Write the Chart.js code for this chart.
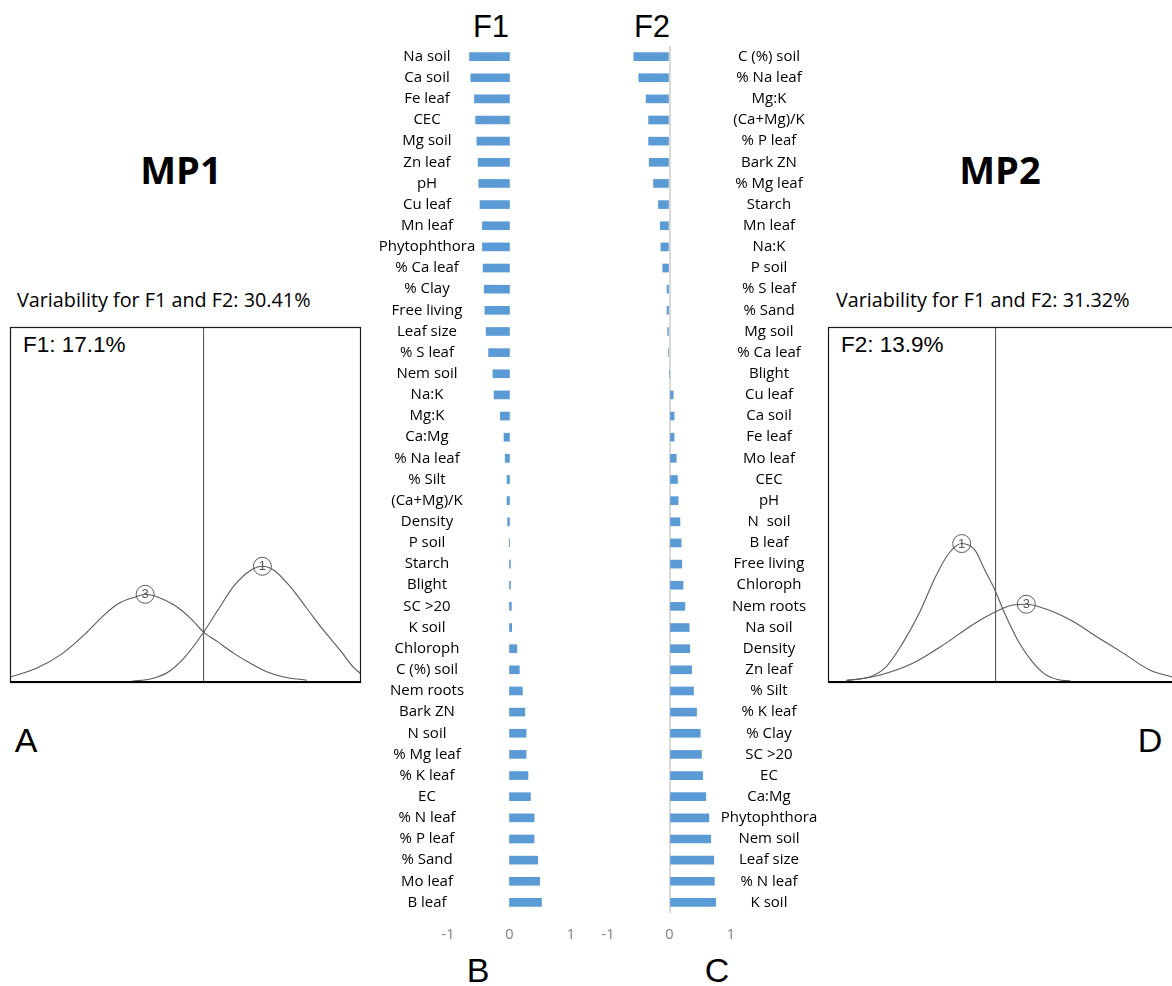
<!DOCTYPE html>
<html>
<head>
<meta charset="utf-8">
<script src="https://cdn.jsdelivr.net/npm/chart.js@4.4.0/dist/chart.umd.min.js"></script>
<style>
  html, body { margin: 0; padding: 0; background: #fff; }
  #page { position: relative; width: 1172px; height: 986px; overflow: hidden; background: #fff; }
  canvas { position: absolute; }
  .t { position: absolute; white-space: nowrap; line-height: 1; transform: translate(-50%, -50%); color: #000; }
  .l { transform: translate(0, -50%); }
  .arial { font-family: "Liberation Sans", Arial, sans-serif; }
  .cal { font-family: "Open Sans", sans-serif; }
</style>
</head>
<body>
<div id="page">
  <div class="t arial" style="left:491px;top:26px;font-size:31px">F1</div>
  <div class="t arial" style="left:652px;top:26px;font-size:31px">F2</div>
  <div class="t cal" style="left:181px;top:169px;font-size:38px;font-weight:700">MP1</div>
  <div class="t cal" style="left:1000px;top:169px;font-size:38px;font-weight:700">MP2</div>
  <div class="t l cal" style="left:17px;top:300px;font-size:19.8px">Variability for F1 and F2: 30.41%</div>
  <div class="t l cal" style="left:836px;top:300px;font-size:19.8px">Variability for F1 and F2: 31.32%</div>
  <div class="t l arial" style="left:23px;top:345px;font-size:22.5px">F1: 17.1%</div>
  <div class="t l arial" style="left:841px;top:345px;font-size:22.5px">F2: 13.9%</div>
  <div class="t arial" style="left:26px;top:740px;font-size:34px">A</div>
  <div class="t arial" style="left:478px;top:970px;font-size:34px">B</div>
  <div class="t arial" style="left:717px;top:970px;font-size:34px">C</div>
  <div class="t arial" style="left:1150px;top:740px;font-size:34px">D</div>

  <canvas id="mp1Chart" width="380" height="400" style="left:0px;top:300px"></canvas>
  <canvas id="mp2Chart" width="380" height="400" style="left:818px;top:300px"></canvas>
  <canvas id="f1Chart" width="262" height="960" style="left:328px;top:0px"></canvas>
  <canvas id="f2Chart" width="263" height="960" style="left:588px;top:0px"></canvas>
</div>

<script>
// F1 loadings (panel B)
const f1Labels = ['Na soil', 'Ca soil', 'Fe leaf', 'CEC', 'Mg soil', 'Zn leaf', 'pH', 'Cu leaf', 'Mn leaf',
    'Phytophthora', '% Ca leaf', '% Clay', 'Free living', 'Leaf size', '% S leaf', 'Nem soil', 'Na:K', 'Mg:K',
    'Ca:Mg', '% Na leaf', '% Silt', '(Ca+Mg)/K', 'Density', 'P soil', 'Starch', 'Blight', 'SC >20', 'K soil',
    'Chloroph', 'C (%) soil', 'Nem roots', 'Bark ZN', 'N soil', '% Mg leaf', '% K leaf', 'EC', '% N leaf',
    '% P leaf', '% Sand', 'Mo leaf', 'B leaf'];
const f1Values = [-0.65, -0.63, -0.57, -0.55, -0.53, -0.51, -0.50, -0.48, -0.44,
    -0.44, -0.43, -0.41, -0.40, -0.38, -0.34, -0.27, -0.25, -0.15,
    -0.09, -0.07, -0.04, -0.04, -0.03, -0.005, 0.015, 0.015, 0.03, 0.035,
    0.12, 0.16, 0.21, 0.25, 0.27, 0.27, 0.30, 0.34, 0.40,
    0.40, 0.46, 0.49, 0.52];

// F2 loadings (panel C)
const f2Labels = ['C (%) soil', '% Na leaf', 'Mg:K', '(Ca+Mg)/K', '% P leaf', 'Bark ZN', '% Mg leaf', 'Starch',
    'Mn leaf', 'Na:K', 'P soil', '% S leaf', '% Sand', 'Mg soil', '% Ca leaf', 'Blight', 'Cu leaf', 'Ca soil',
    'Fe leaf', 'Mo leaf', 'CEC', 'pH', 'N  soil', 'B leaf', 'Free living', 'Chloroph', 'Nem roots', 'Na soil',
    'Density', 'Zn leaf', '% Silt', '% K leaf', '% Clay', 'SC >20', 'EC', 'Ca:Mg', 'Phytophthora', 'Nem soil',
    'Leaf size', '% N leaf', 'K soil'];
const f2Values = [-0.58, -0.50, -0.38, -0.34, -0.34, -0.33, -0.26, -0.18,
    -0.15, -0.14, -0.11, -0.04, -0.04, -0.03, -0.015, 0, 0.06, 0.075,
    0.075, 0.11, 0.13, 0.14, 0.17, 0.19, 0.20, 0.22, 0.25, 0.32,
    0.33, 0.36, 0.39, 0.44, 0.50, 0.52, 0.54, 0.59, 0.64, 0.67,
    0.72, 0.73, 0.75];

const axisMin = -1;
const axisMax = 1;

const mp1Group1 = [[-20.3, 0.2], [-14.7, 0.9], [-9.9, 2.8], [-5.2, 7.0], [0, 13.8], [4.2, 20.2], [8.9, 27.2],
    [13.6, 31.5], [16.9, 32.6], [20.2, 31.5], [24.9, 26.8], [29.6, 20.7], [34.3, 14.6], [39.1, 8.9],
    [42.8, 4.2], [45, 2.3]];
const mp1Group3 = [[-55, 1.4], [-47.6, 3.8], [-40.1, 8.0], [-33.5, 13.6], [-28.8, 18.3], [-24.1, 22.1],
    [-19.4, 23.9], [-16.5, 24.7], [-12.8, 23.9], [-8.1, 21.6], [-3.4, 17.8], [0, 14.2], [4.2, 11.3],
    [8.9, 8.0], [13.6, 5.2], [18.3, 2.8], [23, 1.4], [29.6, 0.5]];
const mp1Peaks = [['1', 16.9, 32.6], ['3', -16.5, 24.7]];
const mp1Range = [-55, 45];

const mp2Group1 = [[-42.4, 0.5], [-35.8, 1.4], [-31.1, 4.2], [-26.4, 10.8], [-21.7, 19.2], [-17, 29.6],
    [-13.2, 36.2], [-9.5, 39.0], [-5.7, 37.1], [-2.9, 31.5], [0, 25.8], [2.8, 19.2], [6.5, 11.7],
    [10.3, 6.1], [14.1, 2.3], [17.8, 0.7], [21.6, 0.3]];
const mp2Group3 = [[-42.4, 0.3], [-33, 1.9], [-23.6, 5.2], [-14.2, 10.8], [-6.6, 16.0], [0, 19.7],
    [4.7, 21.6], [8.9, 21.9], [14.1, 20.7], [21.6, 17.4], [29.1, 12.7], [36.7, 8.0], [44.2, 3.3], [50.4, 1.4]];
const mp2Peaks = [['1', -9.5, 39.0], ['3', 8.9, 21.9]];
const mp2Range = [-47.6, 52.4];

const barColor = '#5b9bd5';
const labelFont = { family: 'Open Sans', size: 15 };

function widest(labels) {
    let ctx = document.createElement('canvas').getContext('2d');
    ctx.font = labelFont.size + 'px "' + labelFont.family + '"';
    return Math.max(...labels.map(l => ctx.measureText(l).width));
}

function toPoints(pairs) {
    return pairs.map(p => ({ x: p[0], y: p[1] }));
}

const boxPlugin = {
    id: 'boxPlugin',
    afterDraw(chart) {
        const ctx = chart.ctx;
        const a = chart.chartArea;
        ctx.save();
        ctx.strokeStyle = '#1a1a1a';
        ctx.lineWidth = 1.2;
        ctx.strokeRect(a.left + 0.5, a.top + 0.5, a.right - a.left - 1, a.bottom - a.top);
        ctx.lineWidth = 2.2;
        ctx.strokeStyle = '#000';
        ctx.beginPath();
        ctx.moveTo(a.left, a.bottom);
        ctx.lineTo(a.right, a.bottom);
        ctx.stroke();
        chart.data.datasets.forEach((ds, i) => {
            if (!ds.peakLabel) return;
            const pt = chart.getDatasetMeta(i).data[0];
            ctx.fillStyle = '#555';
            ctx.font = '13px "Liberation Sans"';
            ctx.textAlign = 'center';
            ctx.textBaseline = 'middle';
            ctx.fillText(ds.peakLabel, pt.x, pt.y + 0.5);
        });
        ctx.restore();
    }
};

function createCurveChart(id, curves, peaks, range) {
    let datasets = curves.map(c => ({
        type: 'line',
        data: toPoints(c),
        borderColor: '#5a5a5a',
        borderWidth: 1.1,
        pointRadius: 0,
        tension: 0.4,
        cubicInterpolationMode: 'monotone',
        fill: false
    }));
    peaks.forEach(p => {
        datasets.push({
            type: 'scatter',
            peakLabel: p[0],
            data: [{ x: p[1], y: p[2] }],
            pointRadius: 9,
            pointBackgroundColor: '#fff',
            pointBorderColor: '#5a5a5a',
            pointBorderWidth: 1
        });
    });
    return new Chart(document.getElementById(id), {
        type: 'line',
        data: { datasets: datasets },
        options: {
            responsive: false,
            animation: false,
            layout: { padding: { left: 7, top: 27, right: 19, bottom: 18 } },
            plugins: { legend: { display: false }, tooltip: { enabled: false } },
            scales: {
                x: {
                    type: 'linear', min: range[0], max: range[1],
                    afterBuildTicks: s => { s.ticks = [{ value: 0 }]; },
                    ticks: { display: false },
                    border: { display: false },
                    grid: { drawTicks: false, color: '#5a5a5a', lineWidth: 1.1 }
                },
                y: { min: 0, max: 100, display: false }
            }
        },
        plugins: [boxPlugin]
    });
}

// labels are mirrored so they can run a little into the plot, as in the original
function createBarChart(id, labels, values, side, labelCenterOffset, showZero) {
    const w = widest(labels);
    const labelPadding = side === 'left' ? -labelCenterOffset - w / 2 : labelCenterOffset + w / 2;
    return new Chart(document.getElementById(id), {
        type: 'bar',
        data: {
            labels: labels,
            datasets: [{ data: values, backgroundColor: barColor, barThickness: 8 }]
        },
        options: {
            indexAxis: 'y',
            responsive: false,
            animation: false,
            layout: { padding: side === 'left' ? { left: 0, right: 19, top: 46, bottom: 7 } : { left: 20, right: 0, top: 46, bottom: 7 } },
            plugins: { legend: { display: false }, tooltip: { enabled: false } },
            scales: {
                x: {
                    min: axisMin, max: axisMax,
                    ticks: { stepSize: 1, color: '#808080', font: { family: 'Open Sans', size: 14.5 }, padding: 13 },
                    afterFit: s => { s.height = 40; },
                    border: { display: false },
                    grid: {
                        display: showZero, drawTicks: false, lineWidth: 2,
                        color: c => (c.tick && c.tick.value === 0) ? '#d9d9d9' : 'rgba(0,0,0,0)'
                    }
                },
                y: {
                    position: side,
                    afterFit: s => {
                        s.width = 120;
                        s.paddingTop = 0;
                        s.paddingBottom = 0;
                    },
                    border: { display: false },
                    grid: { display: false, drawTicks: false },
                    ticks: {
                        autoSkip: false,
                        mirror: true,
                        crossAlign: 'center',
                        color: '#000',
                        font: labelFont,
                        padding: labelPadding
                    }
                }
            }
        }
    });
}

createCurveChart('mp1Chart', [mp1Group1, mp1Group3], mp1Peaks, mp1Range);
createCurveChart('mp2Chart', [mp2Group1, mp2Group3], mp2Peaks, mp2Range);
createBarChart('f1Chart', f1Labels, f1Values, 'left', 21, false);
createBarChart('f2Chart', f2Labels, f2Values, 'right', 38, true);
</script>
</body>
</html>
